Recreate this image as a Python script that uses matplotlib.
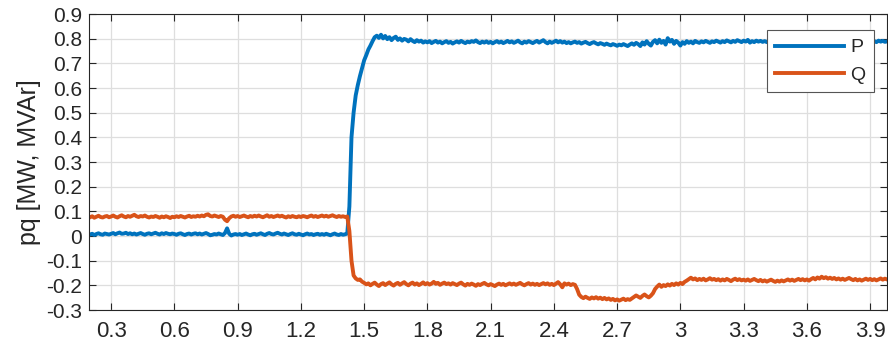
import numpy as np
import matplotlib.pyplot as plt

# active power P [MW], sampled every 10 ms from t = 0.20 s
P = [
    0.006, 0.009, 0.004, 0.008, 0.011, 0.007, 0.005, 0.010, 0.008, 0.006,
    0.009, 0.012, 0.007, 0.011, 0.014, 0.009, 0.010, 0.013, 0.008, 0.011,
    0.007, 0.010, 0.006, 0.009, 0.012, 0.008, 0.005, 0.009, 0.011, 0.007,
    0.010, 0.013, 0.009, 0.006, 0.011, 0.008, 0.012, 0.009, 0.007, 0.010,
    0.008, 0.005, 0.009, 0.011, 0.007, 0.004, 0.008, 0.010, 0.006, 0.009,
    0.011, 0.007, 0.010, 0.006, 0.009, 0.012, 0.008, 0.003, 0.005, 0.008,
    0.006, 0.010, 0.007, 0.004, 0.012, 0.031, 0.009, 0.002, 0.006, 0.008,
    0.005, 0.008, 0.004, 0.007, 0.010, 0.006, 0.003, 0.007, 0.009, 0.005,
    0.008, 0.011, 0.007, 0.004, 0.009, 0.012, 0.008, 0.006, 0.010, 0.013,
    0.009, 0.006, 0.010, 0.007, 0.004, 0.008, 0.011, 0.007, 0.005, 0.009,
    0.006, 0.003, 0.007, 0.010, 0.006, 0.008, 0.004, 0.007, 0.009, 0.005,
    0.008, 0.005, 0.009, 0.006, 0.003, 0.007, 0.010, 0.006, 0.004, 0.008,
    0.005, 0.007, 0.010, 0.120, 0.400, 0.500, 0.570, 0.612, 0.648, 0.680,
    0.712, 0.733, 0.756, 0.772, 0.790, 0.806, 0.812, 0.803, 0.816, 0.801,
    0.811, 0.798, 0.806, 0.794, 0.803, 0.808, 0.795, 0.801, 0.792, 0.799,
    0.796, 0.789, 0.798, 0.791, 0.786, 0.794, 0.788, 0.792, 0.784, 0.789,
    0.785, 0.790, 0.782, 0.787, 0.791, 0.784, 0.788, 0.781, 0.786, 0.790,
    0.783, 0.787, 0.780, 0.785, 0.789, 0.784, 0.791, 0.786, 0.782, 0.788,
    0.785, 0.790, 0.787, 0.793, 0.786, 0.782, 0.788, 0.784, 0.789, 0.783,
    0.787, 0.781, 0.786, 0.790, 0.784, 0.788, 0.782, 0.786, 0.791, 0.785,
    0.789, 0.783, 0.787, 0.792, 0.785, 0.781, 0.788, 0.784, 0.790, 0.786,
    0.782, 0.787, 0.791, 0.784, 0.789, 0.794, 0.786, 0.781, 0.788, 0.783,
    0.787, 0.792, 0.785, 0.790, 0.784, 0.788, 0.782, 0.786, 0.781, 0.785,
    0.788, 0.783, 0.786, 0.780, 0.784, 0.787, 0.782, 0.778, 0.783, 0.786,
    0.781, 0.777, 0.782, 0.779, 0.775, 0.780, 0.776, 0.773, 0.778, 0.775,
    0.771, 0.776, 0.773, 0.778, 0.774, 0.770, 0.776, 0.781, 0.775, 0.783,
    0.778, 0.770, 0.785, 0.776, 0.790, 0.779, 0.772, 0.787, 0.794, 0.781,
    0.796, 0.783, 0.791, 0.776, 0.802, 0.788, 0.795, 0.779, 0.791, 0.784,
    0.772, 0.786, 0.779, 0.790, 0.783, 0.788, 0.781, 0.791, 0.786, 0.783,
    0.789, 0.785, 0.791, 0.787, 0.783, 0.789, 0.786, 0.792, 0.788, 0.784,
    0.790, 0.786, 0.793, 0.789, 0.785, 0.791, 0.787, 0.794, 0.790, 0.786,
    0.792, 0.788, 0.795, 0.784, 0.790, 0.786, 0.792, 0.788, 0.791, 0.787,
    0.790, 0.786, 0.792, 0.788, 0.791, 0.787, 0.793, 0.789, 0.785, 0.790,
    0.787, 0.792, 0.788, 0.784, 0.790, 0.786, 0.791, 0.787, 0.793, 0.789,
    0.786, 0.791, 0.787, 0.792, 0.788, 0.784, 0.790, 0.786, 0.792, 0.788,
    0.791, 0.787, 0.793, 0.789, 0.785, 0.790, 0.786, 0.792, 0.788, 0.784,
    0.790, 0.786, 0.791, 0.787, 0.793, 0.789, 0.785, 0.791, 0.787, 0.792,
    0.788, 0.794, 0.790, 0.786, 0.792, 0.788, 0.791, 0.787, 0.789,
]

# reactive power Q [MVAr], same sampling
Q = [
    0.076, 0.080, 0.074, 0.078, 0.082, 0.077, 0.075, 0.079, 0.081, 0.076,
    0.079, 0.083, 0.078, 0.075, 0.080, 0.084, 0.079, 0.076, 0.081, 0.078,
    0.082, 0.086, 0.080, 0.077, 0.081, 0.079, 0.083, 0.078, 0.075, 0.079,
    0.077, 0.081, 0.078, 0.074, 0.079, 0.076, 0.080, 0.077, 0.073, 0.078,
    0.076, 0.080, 0.077, 0.081, 0.078, 0.075, 0.079, 0.082, 0.077, 0.080,
    0.078, 0.082, 0.079, 0.083, 0.080, 0.086, 0.088, 0.081, 0.079, 0.083,
    0.080, 0.077, 0.081, 0.078, 0.066, 0.060, 0.072, 0.079, 0.082, 0.078,
    0.081, 0.077, 0.080, 0.083, 0.079, 0.076, 0.081, 0.078, 0.082, 0.079,
    0.083, 0.079, 0.076, 0.080, 0.084, 0.078, 0.081, 0.077, 0.080, 0.083,
    0.079, 0.082, 0.078, 0.075, 0.080, 0.077, 0.081, 0.078, 0.076, 0.080,
    0.077, 0.081, 0.079, 0.076, 0.080, 0.083, 0.078, 0.081, 0.077, 0.080,
    0.083, 0.079, 0.082, 0.078, 0.081, 0.084, 0.080, 0.077, 0.081, 0.078,
    0.080, 0.077, 0.079, 0.020, -0.100, -0.160, -0.172, -0.178, -0.176, -0.185,
    -0.190, -0.196, -0.192, -0.200, -0.194, -0.189, -0.197, -0.203, -0.195, -0.191,
    -0.199, -0.193, -0.188, -0.196, -0.201, -0.194, -0.190, -0.198, -0.192, -0.187,
    -0.195, -0.200, -0.193, -0.189, -0.197, -0.192, -0.199, -0.194, -0.188, -0.196,
    -0.191, -0.197, -0.193, -0.186, -0.194, -0.190, -0.198, -0.193, -0.189, -0.195,
    -0.192, -0.197, -0.191, -0.195, -0.199, -0.193, -0.189, -0.196, -0.201, -0.194,
    -0.198, -0.193, -0.197, -0.202, -0.195, -0.199, -0.194, -0.190, -0.196, -0.200,
    -0.195, -0.199, -0.203, -0.197, -0.193, -0.198, -0.194, -0.200, -0.196, -0.192,
    -0.197, -0.193, -0.198, -0.194, -0.190, -0.196, -0.200, -0.195, -0.191, -0.197,
    -0.193, -0.198, -0.194, -0.199, -0.195, -0.191, -0.196, -0.192, -0.198, -0.194,
    -0.199, -0.193, -0.187, -0.196, -0.208, -0.192, -0.197, -0.193, -0.199, -0.195,
    -0.198, -0.215, -0.238, -0.247, -0.252, -0.246, -0.251, -0.255, -0.249, -0.253,
    -0.248, -0.254, -0.250, -0.256, -0.251, -0.257, -0.253, -0.259, -0.255, -0.261,
    -0.257, -0.262, -0.258, -0.254, -0.260, -0.256, -0.259, -0.253, -0.247, -0.241,
    -0.246, -0.251, -0.243, -0.237, -0.244, -0.249, -0.242, -0.232, -0.215, -0.205,
    -0.197, -0.206, -0.199, -0.203, -0.196, -0.201, -0.194, -0.199, -0.192, -0.197,
    -0.190, -0.195, -0.186, -0.181, -0.175, -0.169, -0.176, -0.172, -0.179, -0.174,
    -0.178, -0.173, -0.180, -0.176, -0.171, -0.177, -0.174, -0.179, -0.175, -0.181,
    -0.176, -0.180, -0.174, -0.178, -0.183, -0.177, -0.173, -0.179, -0.175, -0.180,
    -0.177, -0.181, -0.176, -0.182, -0.178, -0.174, -0.179, -0.183, -0.178, -0.184,
    -0.180, -0.185, -0.181, -0.177, -0.182, -0.186, -0.181, -0.185, -0.180, -0.184,
    -0.180, -0.176, -0.181, -0.177, -0.182, -0.178, -0.174, -0.179, -0.175, -0.180,
    -0.176, -0.181, -0.175, -0.170, -0.176, -0.168, -0.173, -0.165, -0.171, -0.167,
    -0.173, -0.169, -0.174, -0.170, -0.176, -0.172, -0.177, -0.173, -0.178, -0.174,
    -0.170, -0.175, -0.179, -0.174, -0.180, -0.176, -0.181, -0.177, -0.173, -0.178,
    -0.174, -0.179, -0.175, -0.180, -0.176, -0.172, -0.177, -0.173, -0.176,
]

t0, dt = 0.20, 0.01
x_ticks = [0.3, 0.6, 0.9, 1.2, 1.5, 1.8, 2.1, 2.4, 2.7, 3.0, 3.3, 3.6, 3.9]
x_labels = ["0.3", "0.6", "0.9", "1.2", "1.5", "1.8", "2.1", "2.4", "2.7", "3", "3.3", "3.6", "3.9"]
y_ticks = [-0.3, -0.2, -0.1, 0, 0.1, 0.2, 0.3, 0.4, 0.5, 0.6, 0.7, 0.8, 0.9]
y_labels = ["-0.3", "-0.2", "-0.1", "0", "0.1", "0.2", "0.3", "0.4", "0.5", "0.6", "0.7", "0.8", "0.9"]

t = t0 + dt * np.arange(len(P))

plt.rcParams['font.family'] = ['Liberation Sans', 'DejaVu Sans']
dark = '#262626'

fig = plt.figure(figsize=(8.88, 3.48), dpi=100)
ax = fig.add_axes([89 / 888, 38 / 348, 798 / 888, 296 / 348])

ax.plot(t, P, color='#0072BD', lw=2.8, label='P')
ax.plot(t, Q, color='#D95319', lw=2.8, label='Q')

ax.set_xlim(0.195, 3.98)
ax.set_ylim(-0.3, 0.9)
ax.set_xticks(x_ticks)
ax.set_xticklabels(x_labels, fontsize=16)
ax.set_yticks(y_ticks)
ax.set_yticklabels(y_labels, fontsize=15)

ax.grid(True, color='#dedede', lw=0.9)
ax.set_axisbelow(True)
ax.tick_params(direction='in', length=5, width=0.8, colors=dark,
               top=True, right=True)
ax.tick_params(axis='x', pad=8)
ax.tick_params(axis='y', pad=5)
for s in ax.spines.values():
    s.set_color(dark)
    s.set_linewidth(0.8)

ax.set_ylabel('pq [MW, MVAr]', fontsize=18, color=dark, labelpad=4)

leg = ax.legend(loc='upper right', bbox_to_anchor=(0.9837, 0.946), borderaxespad=0,
                fontsize=14, handlelength=3.55, fancybox=False, framealpha=1,
                edgecolor='#555555', labelspacing=0.5, borderpad=0.45, handletextpad=0.3)
leg.get_frame().set_linewidth(0.8)
for txt in leg.get_texts():
    txt.set_color(dark)

fig.savefig('out.png', dpi=100)
